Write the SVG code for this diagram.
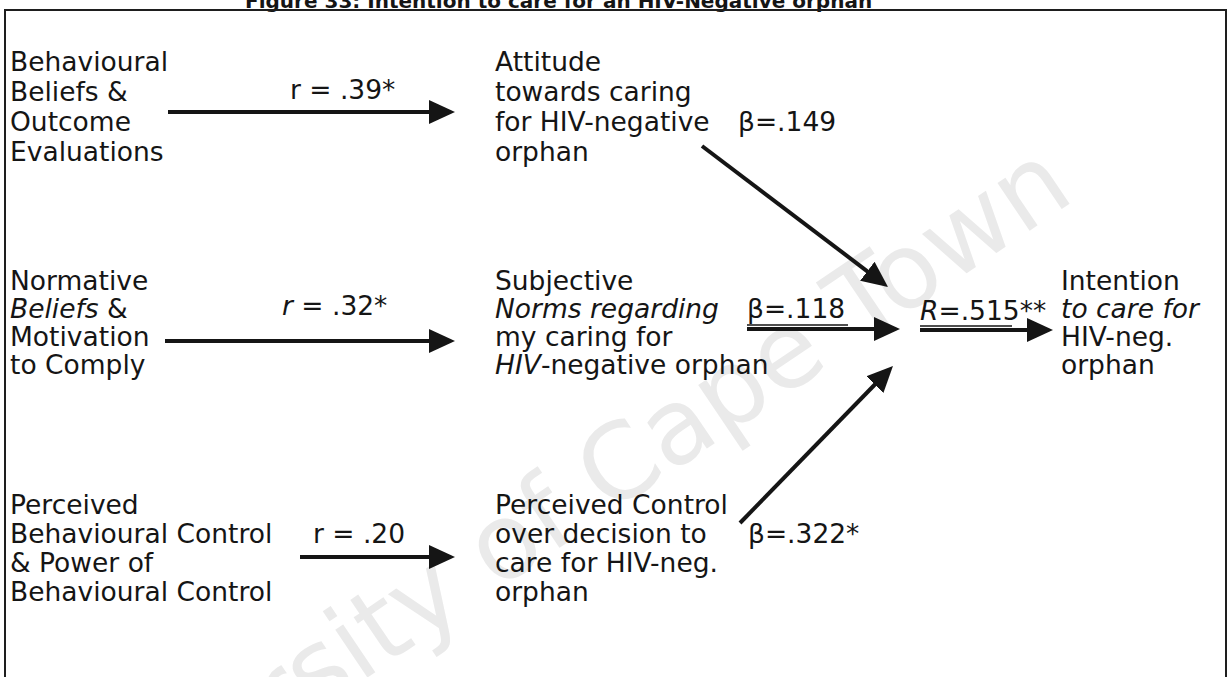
<svg xmlns="http://www.w3.org/2000/svg" width="1230" height="677" viewBox="0 0 1230 677">
  <defs>
    <style>
      .txt{font-family:"DejaVu Sans",Verdana,"Liberation Sans",sans-serif;font-size:26.5px;fill:#151515}
      .it{font-style:italic}
      .title{font-family:"DejaVu Sans",Verdana,"Liberation Sans",sans-serif;font-weight:bold;font-size:20px;fill:#151515}
      .edge{stroke:#151515;stroke-width:4;fill:none;marker-end:url(#head)}
      .uline{stroke:#151515;stroke-width:1.6}
      .frame{fill:none;stroke:#1e1e1e;stroke-width:2}
      .wm{font-family:"DejaVu Sans",Verdana,sans-serif;font-size:105px;fill:#eaeaea}
    </style>
    <marker id="head" markerUnits="userSpaceOnUse" markerWidth="26" markerHeight="24" refX="5" refY="12" orient="auto" viewBox="0 0 26 24">
      <path d="M0,0 L26,12 L0,24 Z" fill="#151515"/>
    </marker>
  </defs>

  <rect width="1230" height="677" fill="#ffffff"/>

  <!-- faint watermark across the page -->
  <text class="wm" transform="translate(30,905) rotate(-34)">University of Cape Town</text>

  <!-- caption and frame -->
  <text class="title" x="245" y="8">Figure 33: Intention to care for an HIV-Negative orphan</text>
  <rect class="frame" x="5" y="10" width="1221" height="720"/>

  <!-- source constructs -->
  <g id="behavioural-beliefs">
    <text class="txt" x="10" y="71">Behavioural</text>
    <text class="txt" x="10" y="101">Beliefs &amp;</text>
    <text class="txt" x="10" y="131">Outcome</text>
    <text class="txt" x="10" y="161">Evaluations</text>
  </g>
  <g id="normative-beliefs">
    <text class="txt" x="10" y="290">Normative</text>
    <text class="txt" x="10" y="318"><tspan class="it">Beliefs</tspan> &amp;</text>
    <text class="txt" x="10" y="346">Motivation</text>
    <text class="txt" x="10" y="374">to Comply</text>
  </g>
  <g id="control-beliefs">
    <text class="txt" x="10" y="514">Perceived</text>
    <text class="txt" x="10" y="543">Behavioural Control</text>
    <text class="txt" x="10" y="572">&amp; Power of</text>
    <text class="txt" x="10" y="601">Behavioural Control</text>
  </g>

  <!-- direct predictors -->
  <g id="attitude">
    <text class="txt" x="495" y="71">Attitude</text>
    <text class="txt" x="495" y="101">towards caring</text>
    <text class="txt" x="495" y="131">for HIV-negative</text>
    <text class="txt" x="495" y="161">orphan</text>
  </g>
  <g id="subjective-norms">
    <text class="txt" x="495" y="290">Subjective</text>
    <text class="txt it" x="495" y="318">Norms regarding</text>
    <text class="txt" x="495" y="346">my caring for</text>
    <text class="txt" x="495" y="374"><tspan class="it">HIV</tspan>-negative orphan</text>
  </g>
  <g id="perceived-control">
    <text class="txt" x="495" y="514">Perceived Control</text>
    <text class="txt" x="495" y="543">over decision to</text>
    <text class="txt" x="495" y="572">care for HIV-neg.</text>
    <text class="txt" x="495" y="601">orphan</text>
  </g>

  <!-- outcome -->
  <g id="intention">
    <text class="txt" x="1061" y="290">Intention</text>
    <text class="txt it" x="1061" y="318">to care for</text>
    <text class="txt" x="1061" y="346">HIV-neg.</text>
    <text class="txt" x="1061" y="374">orphan</text>
  </g>

  <!-- paths and coefficients -->
  <g id="connectors">
    <path class="edge" d="M168,112 H434"/>
    <path class="edge" d="M165,341 H434"/>
    <path class="edge" d="M300,557 H434"/>
    <path class="edge" d="M702,146 L871.3,274.3"/>
    <path class="edge" d="M747,329 H879"/>
    <path class="edge" d="M740,523 L878.3,381"/>
    <path class="edge" d="M920,330 H1032"/>

    <text class="txt" x="290" y="99">r = .39*</text>
    <text class="txt" x="282" y="315"><tspan class="it">r</tspan> = .32*</text>
    <text class="txt" x="313" y="543">r = .20</text>
    <text class="txt" x="738" y="131">β=.149</text>
    <text class="txt" x="747" y="318">β=.118</text>
    <line class="uline" x1="747" y1="325" x2="848" y2="325"/>
    <text class="txt" x="748" y="543">β=.322*</text>
    <text class="txt" x="920" y="320"><tspan class="it">R</tspan>=.515**</text>
    <line class="uline" x1="920" y1="326" x2="1012" y2="326"/>
  </g>
</svg>
